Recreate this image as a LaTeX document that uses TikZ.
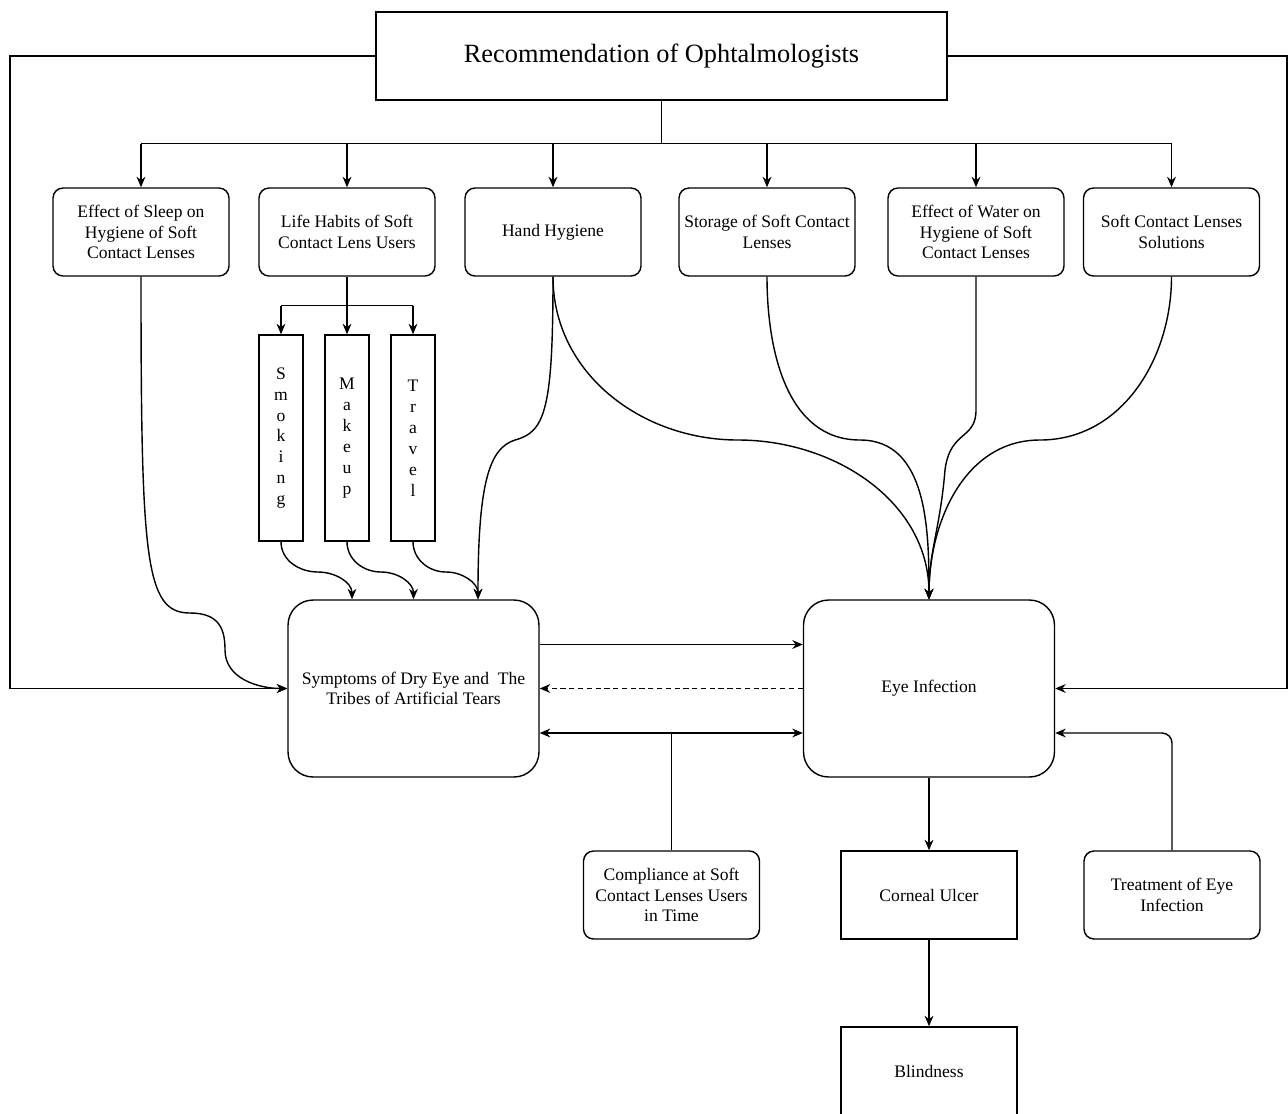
\documentclass[tikz,border=0pt]{standalone}
\usepackage{fontspec}
\setmainfont{Liberation Serif}
\usetikzlibrary{arrows.meta}

\begin{document}
\begin{tikzpicture}[x=0.02cm, y=-0.02cm, line width=0.8pt,
    font=\fontsize{10}{11.6}\selectfont,
    box/.style={draw, align=center, inner sep=2pt, minimum width=3.52cm, minimum height=1.76cm},
    rbox/.style={box, rounded corners=0.2cm},
    bigbox/.style={draw, rounded corners=0.5cm, align=center, minimum width=5.02cm, minimum height=3.54cm},
    letters/.style={draw, align=center, inner sep=0pt, minimum width=0.88cm, minimum height=4.12cm,
      font=\fontsize{10}{11.9}\selectfont},
    arr/.style={-{Stealth[length=6pt,width=5pt]}},
    arrs/.style={{Stealth[length=6pt,width=5pt]}-{Stealth[length=6pt,width=5pt]}}]
    \useasboundingbox (0,0) rectangle (1288,1113);

    % top
    \node[draw, minimum width=11.42cm, minimum height=1.76cm, font=\fontsize{15}{18}\selectfont] (title) at (661.5,56) {Recommendation of Ophtalmologists};

    \node[rbox] (sleep) at (141,232) {Effect of Sleep on\\Hygiene of Soft\\Contact Lenses};
    \node[rbox] (habits) at (347,232) {Life Habits of Soft\\Contact Lens Users};
    \node[rbox] (hand) at (553,232) {Hand Hygiene};
    \node[rbox] (storage) at (767,232) {Storage of Soft Contact\\Lenses};
    \node[rbox] (water) at (976,232) {Effect of Water on\\Hygiene of Soft\\Contact Lenses};
    \node[rbox] (solutions) at (1171.5,232) {Soft Contact Lenses\\Solutions};

    \node[letters] (smoking) at (281,438) {S\\m\\o\\k\\i\\n\\g};
    \node[letters] (makeup) at (347,438) {M\\a\\k\\e\\u\\p};
    \node[letters] (travel) at (413,438) {T\\r\\a\\v\\e\\l};

    % middle
    \node[bigbox] (symptoms) at (413.5,688.5) {Symptoms of Dry Eye and\ \ The\\Tribes of Artificial Tears};
    \node[bigbox] (eye) at (929,688.5) {Eye Infection};

    % bottom
    \node[rbox] (compliance) at (671.5,895) {Compliance at Soft\\Contact Lenses Users\\in Time};
    \node[box] (corneal) at (929,895) {Corneal Ulcer};
    \node[rbox] (treatment) at (1172,895) {Treatment of Eye\\Infection};
    \node[box] (blindness) at (929,1071) {Blindness};

    % tree from the top box
    \draw (title.south) -- ++(0,43) coordinate (trunk);
    \draw (sleep.north |- trunk) -- (solutions.north |- trunk);
    \foreach \n in {sleep,habits,hand,storage,water,solutions}
      \draw[arr] (\n.north |- trunk) -- (\n.north);

    \draw (habits.south) -- ++(0,29) coordinate (split);
    \draw (smoking.north |- split) -- (travel.north |- split);
    \foreach \n in {smoking,makeup,travel}
      \draw[arr] (\n.north |- split) -- (\n.north);

    % side loops
    \draw[arr] (title.west) -- (10,56) |- (symptoms.west);
    \draw[arr] (title.east) -- (1287,56) |- (eye.east);

    % into symptoms
    \coordinate (sA) at ([xshift=-1.23cm]symptoms.north);
    \coordinate (sB) at (symptoms.north);
    \coordinate (sC) at ([xshift=1.29cm]symptoms.north);
    \draw[arr] (sleep.south) .. controls (141,560) and (145,613) .. (190,613) .. controls (220,613) and (225,630) .. (225,650) to[out=-90,in=180] (symptoms.west);
    \draw[arr] (smoking.south) to[out=-90,in=180] (318,572) to[out=0,in=90] (sA);
    \draw[arr] (makeup.south) to[out=-90,in=180] (381,572) to[out=0,in=90] (sB);
    \draw[arr] (travel.south) to[out=-90,in=180] (446,572) to[out=0,in=90] (sC);
    \draw[arr] (hand.south) .. controls (553,410) and (545,432) .. (515,440) .. controls (490,448) and (478,480) .. (sC);

    % into eye infection
    \draw[arr] (hand.south) to[out=-90,in=180] (738,440) to[out=0,in=90] (eye.north);
    \draw[arr] (storage.south) to[out=-90,in=180] (860,440) to[out=0,in=90] (eye.north);
    \draw[arr] (water.south) -- (976,410) .. controls (976,440) and (950,430) .. (945,470) .. controls (940,530) and (929,550) .. (eye.north);
    \draw[arr] (solutions.south) to[out=-90,in=0] (1040,440) to[out=180,in=90] (eye.north);

    % between the two big boxes
    \draw[arr] ([yshift=0.88cm]symptoms.east) -- ([yshift=0.88cm]eye.west);
    \draw[arr, dashed, dash pattern=on 3pt off 2pt] (eye.west) -- (symptoms.east);
    \draw[arrs] ([yshift=-0.89cm]symptoms.east) coordinate (low) -- ([yshift=-0.89cm]eye.west);
    \draw (compliance.north) -- (compliance.north |- low);
    \draw[arr, rounded corners=0.2cm] (treatment.north) |- ([yshift=-0.89cm]eye.east);

    \draw[arr] (eye.south) -- (corneal.north);
    \draw[arr] (corneal.south) -- (blindness.north);
  \end{tikzpicture}
\end{document}
